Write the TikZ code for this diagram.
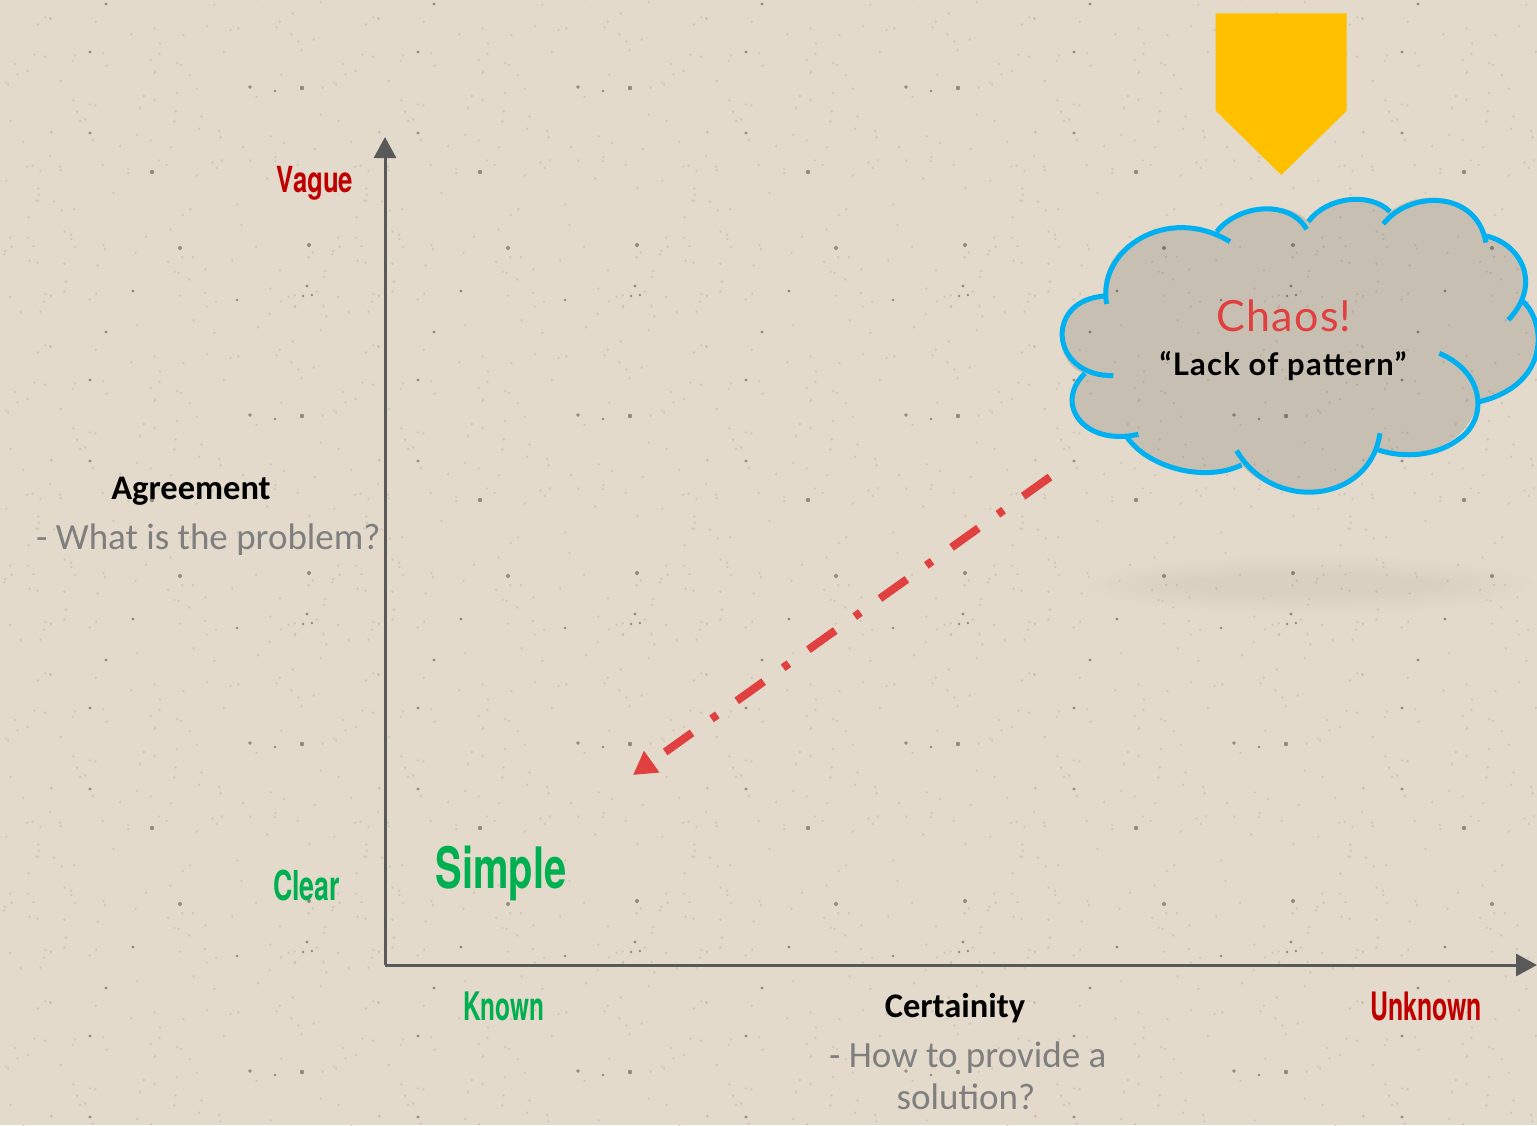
\documentclass[tikz,border=0pt]{standalone}
\usepackage{fontspec}
\usepackage{graphicx}
\usetikzlibrary{arrows.meta}
\setmainfont{Carlito}
\newfontfamily\agency{TeX Gyre Heros}
\newfontfamily\hand{Lato}
\definecolor{paper}{HTML}{E3DACB}
\definecolor{axisgray}{HTML}{595959}
\definecolor{subgray}{HTML}{7F7F7F}
\definecolor{vaguered}{HTML}{C00000}
\definecolor{simplegreen}{HTML}{00B050}
\definecolor{chaosred}{HTML}{E04040}
\definecolor{cloudblue}{HTML}{00B0F0}
\definecolor{penta}{HTML}{FFC000}
\newcommand{\agencytext}[3]{\resizebox*{#1pt}{#2pt}{\agency\bfseries #3}}
\tikzset{
  axisline/.style={draw=axisgray,line width=3pt,-{Triangle[length=21pt,width=22pt]}},
  headtext/.style={font=\fontsize{34.5}{38}\selectfont\bfseries,text=black,inner sep=0pt},
  subtext/.style={font=\fontsize{37}{42}\selectfont,text=subgray,inner sep=0pt},
  agencylabel/.style={inner sep=0pt},
  cloudarc/.style={draw=cloudblue,line width=5pt},
  speckdark/.style={fill=black!60!paper,opacity=.6},
  specklight/.style={fill=black!30!paper,opacity=.3},
  flowarrow/.style={draw=chaosred,line width=8pt,dash pattern=on 33pt off 24pt on 7pt off 24pt,-{Triangle[length=23pt,width=25pt]}}
}
\begin{document}
\begin{tikzpicture}[x=1pt,y=-1pt]
\useasboundingbox (0,0) rectangle (1537,1125);
\begin{scope}
\clip (0,0) rectangle (1537,1125);
\fill[paper] (0,0) rectangle (1537,1125);
% repeating paper grain
\foreach \tx in {-1,0,...,4}{\foreach \ty in {-1,0,...,3}{
  \begin{scope}[shift={(\tx*328+302,\ty*328+88)}]
    \pgfmathsetseed{4711}
    \foreach \k in {1,...,170}{
      \pgfmathsetmacro{\px}{rnd*328-230}\pgfmathsetmacro{\py}{rnd*328}
      \fill[specklight] (\px,\py) circle (1.3pt);
    }
    \fill[speckdark] (0,0) circle (2.2pt) (-52,-1) circle (1.8pt) (-27,3) circle (1.4pt)
      (-212,45) circle (1.6pt) (-150,84) circle (2.2pt) (-122,160) circle (2pt) (7,157) circle (2pt)
      (5,198) circle (1.6pt) (1,208) circle (1.4pt) (10,207) circle (1.4pt) (-169,203) circle (1.6pt)
      (-65,212) circle (1.4pt) (-212,292) circle (1.6pt) (-196,244) circle (1.6pt);
  \end{scope}
}}
% faint shadow band
\foreach \w/\h in {225/30,215/28,205/26,195/24,185/21,175/19,165/16,155/14,145/12,135/10}{
  \fill[black,opacity=.005] (1310,585) ellipse ({\w} and {\h});
}
% pentagon
\fill[penta] (1215.7,13.3) -- (1346.7,13.3) -- (1346.7,110.7) -- (1281.3,175) -- (1215.7,110.7) -- cycle;
% cloud
\begin{scope}[shift={(1040,0)},x=0.3333pt,y=-0.3333pt]
  \fill[black,opacity=.12]
    (195,888) .. controls (170,760) and (330,640) .. (530,695)
    .. controls (600,610) and (750,600) .. (805,665)
    .. controls (860,590) and (990,575) .. (1050,635)
    .. controls (1130,570) and (1300,570) .. (1338,708)
    .. controls (1420,730) and (1480,810) .. (1450,905)
    .. controls (1510,970) and (1520,1150) .. (1310,1207)
    .. controls (1300,1300) and (1170,1400) .. (1015,1350)
    .. controls (950,1500) and (700,1510) .. (605,1395)
    .. controls (490,1450) and (320,1400) .. (260,1310)
    .. controls (130,1340) and (40,1210) .. (135,1120)
    .. controls (40,1100) and (20,900) .. (195,888) -- cycle;
  \draw[cloudarc] (200,912) .. controls (170,750) and (380,610) .. (570,725);
  \draw[cloudarc] (530,695) .. controls (600,610) and (750,600) .. (800,688);
  \draw[cloudarc] (805,665) .. controls (860,590) and (990,575) .. (1050,635);
  \draw[cloudarc] (1030,672) .. controls (1110,570) and (1310,570) .. (1338,728);
  \draw[cloudarc] (1338,708) .. controls (1440,730) and (1510,850) .. (1405,960);
  \draw[cloudarc] (1450,905) .. controls (1520,970) and (1530,1160) .. (1310,1207);
  \draw[cloudarc] (1198,1060) .. controls (1340,1120) and (1340,1260) .. (1260,1315) .. controls (1190,1370) and (1090,1375) .. (1015,1350);
  \draw[cloudarc] (1020,1300) .. controls (990,1510) and (700,1540) .. (590,1352);
  \draw[cloudarc] (605,1395) .. controls (490,1450) and (320,1400) .. (260,1310);
  \draw[cloudarc] (295,1303) .. controls (130,1340) and (40,1210) .. (135,1120);
  \draw[cloudarc] (220,1127) .. controls (30,1130) and (10,900) .. (195,888);
\end{scope}
\end{scope}
% axes
\coordinate (origin) at (385,965);
\coordinate (ytip) at (385,137);
\coordinate (xtip) at (1537,965);
\draw[axisline] (origin) -- (ytip);
\draw[axisline] (origin) -- (xtip);
% arrow
\coordinate (arrowstart) at (1050,477);
\coordinate (arrowtip) at (633,775);
\draw[flowarrow] (arrowstart) -- (arrowtip);
% labels
\node[agencylabel,text=vaguered] (vague) at (315,183.5) {\agencytext{76}{34}{Vague}};
\node[agencylabel,text=simplegreen] (clear) at (306.5,885) {\agencytext{67}{31}{Clear}};
\node[agencylabel,text=simplegreen] (simple) at (501,873.5) {\agencytext{131}{55}{Simple}};
\node[agencylabel,text=simplegreen] (known) at (503.5,1006) {\agencytext{81}{29}{Known}};
\node[agencylabel,text=vaguered] (unknown) at (1426,1006) {\agencytext{112}{29}{Unknown}};
\node[headtext] (agreement) at (191,491) {Agreement};
\node[subtext,anchor=west] (problem) at (36,539.5) {- What is the problem?};
\node[headtext] (certainty) at (955,1008) {Certainity};
\node[subtext,anchor=west] (how) at (829,1058) {- How to provide a};
\node[subtext] (solution) at (966,1097) {solution?};
\node[inner sep=0pt,text=chaosred,font={\hand\addfontfeature{LetterSpace=3}\fontsize{43}{48}\selectfont}] (chaos) at (1284,316) {Chaos!};
\node[inner sep=0pt,text=black,font={\hand\bfseries\addfontfeature{LetterSpace=4}\fontsize{31}{36}\selectfont}] (lack) at (1283,366) {“Lack of pattern”};
\end{tikzpicture}
\end{document}
